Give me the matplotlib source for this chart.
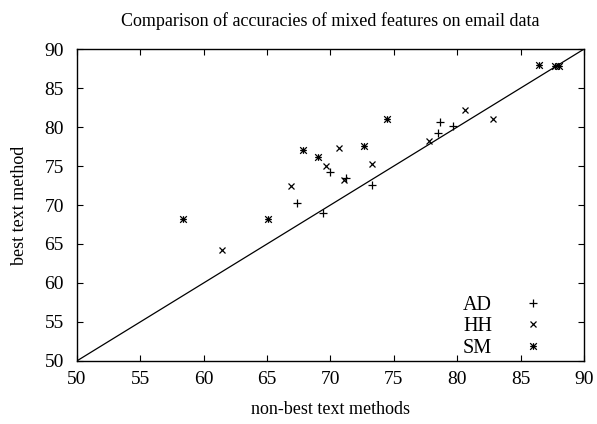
import matplotlib
matplotlib.use("Agg")
import matplotlib.pyplot as plt
from matplotlib.path import Path

plt.rcParams['font.family'] = ['Liberation Serif', 'DejaVu Serif']

ad_x = [67.4, 69.4, 70.0, 71.25, 73.25, 78.45, 78.65, 79.65]
ad_y = [70.2, 69.0, 74.2, 73.45, 72.6, 79.2, 80.6, 80.2]
hh_x = [61.45, 66.85, 69.65, 70.65, 71.05, 73.25, 77.8, 80.6, 82.85]
hh_y = [64.2, 72.4, 75.0, 77.35, 73.2, 75.2, 78.25, 82.2, 81.0]
sm_x = [58.4, 65.05, 67.85, 69.05, 72.65, 74.45, 86.45, 87.75, 88.05]
sm_y = [68.2, 68.2, 77.0, 76.2, 77.6, 81.0, 88.0, 87.8, 87.8]
diag = [50, 90]
ticks = [50, 55, 60, 65, 70, 75, 80, 85, 90]

star = Path([(-1, 0), (1, 0), (0, -1), (0, 1), (-1, -1), (1, 1), (-1, 1), (1, -1)],
            [Path.MOVETO, Path.LINETO] * 4)

fig = plt.figure(figsize=(5.97, 4.24), dpi=100)
ax = fig.add_axes([0.129, 0.149, 0.849, 0.735])

ax.plot(diag, diag, color='black', lw=0.9, zorder=1)
ax.plot(ad_x, ad_y, marker='+', label='AD', markersize=5.5, markeredgewidth=0.9,
        linestyle='none', color='black')
ax.plot(hh_x, hh_y, marker='x', label='HH', markersize=4.5, markeredgewidth=0.9,
        linestyle='none', color='black')
ax.plot(sm_x, sm_y, marker=star, markerfacecolor='none', label='SM', markersize=4.8,
        markeredgewidth=0.9, linestyle='none', color='black')

ax.set_xlim(50, 90)
ax.set_ylim(50, 90)
ax.set_xticks(ticks)
ax.set_yticks(ticks)
ax.tick_params(direction='in', top=True, right=True, length=4, width=0.8,
               labelsize=14)
ax.tick_params(axis='x', pad=7)
ax.tick_params(axis='y', pad=9.5)
for s in ax.spines.values():
    s.set_linewidth(1.0)

ax.set_xlabel('non-best text methods', fontsize=13, labelpad=10)
ax.set_ylabel('best text method', fontsize=13, labelpad=12)
ax.set_title('Comparison of accuracies of mixed features on email data',
             fontsize=13, pad=17)

ax.legend(loc='lower right', frameon=False, markerfirst=False, fontsize=14.5,
          handlelength=1.0, handletextpad=1.55, labelspacing=0.12,
          borderaxespad=0.05, borderpad=0.1, bbox_to_anchor=(0.926, 0.0))

fig.savefig('out.png', dpi=100)
